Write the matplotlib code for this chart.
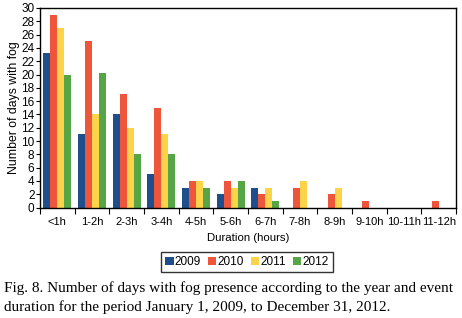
import matplotlib
matplotlib.use("Agg")
import matplotlib.pyplot as plt
import numpy as np

categories = ["<1h", "1-2h", "2-3h", "3-4h", "4-5h", "5-6h", "6-7h", "7-8h", "8-9h", "9-10h", "10-11h", "11-12h"]
years = ["2009", "2010", "2011", "2012"]
v2009 = [23.3, 11, 14, 5, 3, 2, 3, 0, 0, 0, 0, 0]
v2010 = [29, 25, 17, 15, 4, 4, 2, 3, 2, 1, 0, 1]
v2011 = [27, 14, 12, 11, 4, 3, 3, 4, 3, 0, 0, 0]
v2012 = [20, 20.2, 8, 8, 3, 4, 1, 0, 0, 0, 0, 0]
series = [v2009, v2010, v2011, v2012]
colors = ["#1f4e8c", "#ee553b", "#fdd34a", "#56a546"]
yticks = list(range(0, 31, 2))

plt.rcParams['font.family'] = ['Liberation Sans', 'DejaVu Sans']
fig = plt.figure(figsize=(4.62, 3.18), dpi=100)
ax = fig.add_axes([40/462, 1-207.5/318, 416/462, 199.5/318])

x = np.arange(len(categories))
w = 0.2
for i, (s, c, y) in enumerate(zip(series, colors, years)):
    ax.bar(x + (i - 1.5) * w, s, width=w, color=c, label=y, linewidth=0)

ax.set_xlim(-0.5, len(categories) - 0.5)
ax.set_ylim(0, 30)
ax.set_yticks(yticks)
ax.set_xticks(x)
ax.set_xticklabels(categories)
ax.set_xticks(np.arange(-0.5, len(categories), 1), minor=True)
ax.tick_params(axis='x', which='major', length=0, labelsize=8, pad=7)
ax.tick_params(axis='x', which='minor', length=4, width=0.8)
ax.tick_params(axis='y', length=3, width=0.8, labelsize=8.5, pad=1)
for sp in ax.spines.values():
    sp.set_linewidth(1.0)
    sp.set_color('black')
ax.set_xlabel("Duration (hours)", fontsize=8.2, labelpad=4)
ax.set_ylabel("Number of days with fog", fontsize=8.8, labelpad=1)

leg = ax.legend(ncol=4, loc='upper center', bbox_to_anchor=(247/462, 1-246/318),
                bbox_transform=fig.transFigure, fontsize=8.5, frameon=True, fancybox=False,
                handlelength=0.7, handleheight=0.7, handletextpad=0.1, columnspacing=0.6,
                borderpad=0.35, edgecolor='black')
leg.get_frame().set_linewidth(1.0)

fig.text(4/462, 1-288/318, "Fig. 8. Number of days with fog presence according to the year and event",
         family=['Liberation Serif', 'DejaVu Serif'], fontsize=11, va='center', ha='left')
fig.text(4/462, 1-307/318, "duration for the period January 1, 2009, to December 31, 2012.",
         family=['Liberation Serif', 'DejaVu Serif'], fontsize=11, va='center', ha='left')

fig.savefig("out.png", dpi=100)
